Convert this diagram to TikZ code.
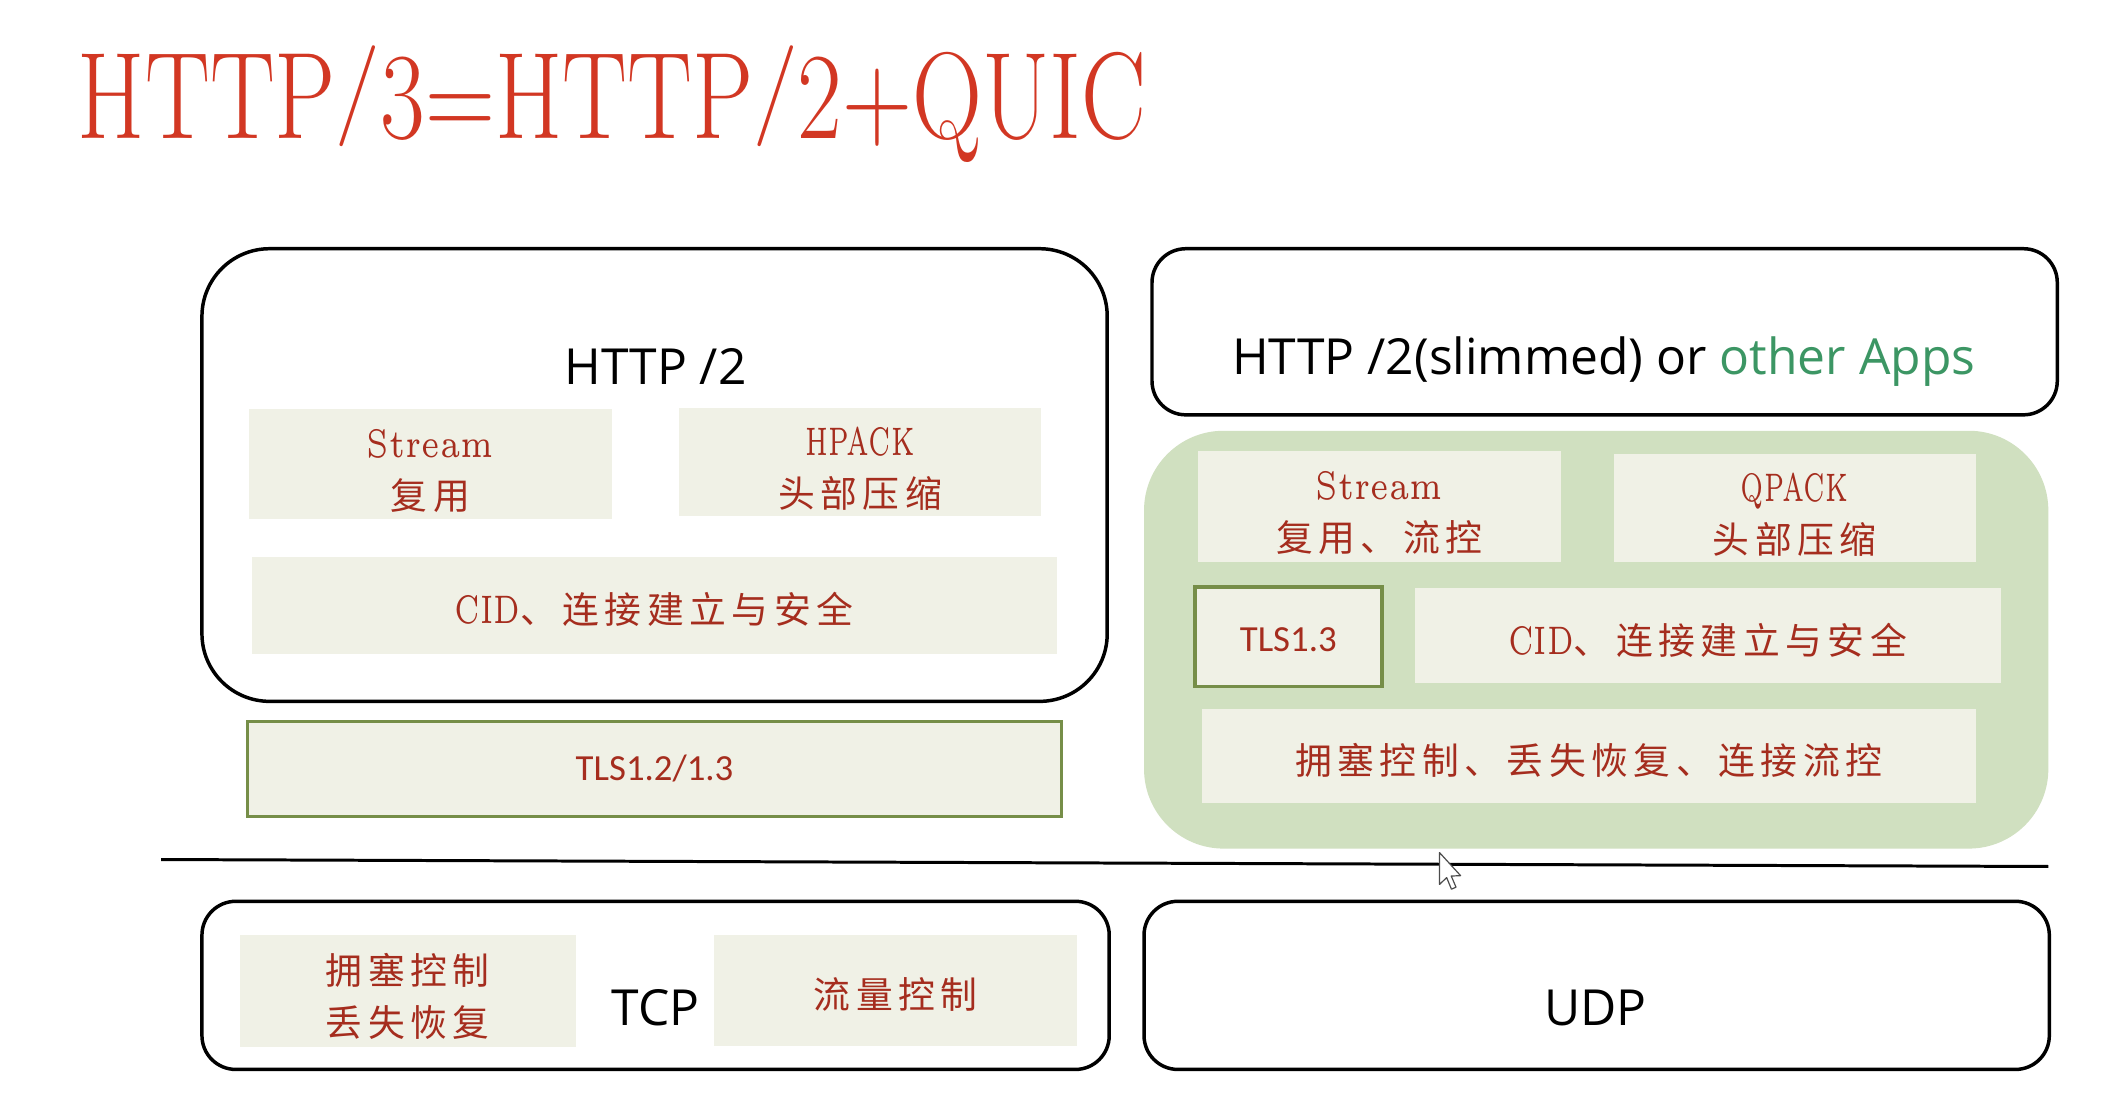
\documentclass[tikz,border=0pt]{standalone}
\usepackage{fontspec}
\newfontfamily\zhfont[LetterSpace=15]{Noto Sans CJK SC}
\newfontfamily\comicfont{Open Sans}
\newfontfamily\calfont{Carlito}
\newfontfamily\lmfive{lmroman5-regular.otf}
\newcommand{\zh}[1]{{\zhfont\fontsize{37}{52}\selectfont #1}}
\newcommand{\lat}[2]{\resizebox{#1}{\height}{\lmfive\fontsize{40}{52}\selectfont #2}}
\newcommand{\upa}{\rule{0pt}{42pt}}
\newcommand{\upb}{\rule{0pt}{40pt}}
\newcommand{\tslash}{\raisebox{17pt}{\scalebox{1}[0.82]{/}}}
\definecolor{titlered}{RGB}{210,55,35}
\definecolor{txtred}{RGB}{165,45,30}
\definecolor{beige}{RGB}{240,241,230}
\definecolor{quicgreen}{RGB}{208,224,192}
\definecolor{olive}{RGB}{118,142,72}
\definecolor{appgreen}{RGB}{60,150,100}
\begin{document}
\begin{tikzpicture}[x=1pt,y=-1pt,
  bigframe/.style={draw=black, line width=3.5pt, rounded corners=68pt, inner sep=0pt},
  smallframe/.style={draw=black, line width=3.5pt, rounded corners=34pt, inner sep=0pt},
  cell/.style={fill=beige, inner sep=0pt, text=txtred, align=center, font=\fontsize{40}{52}\selectfont},
  tlsbox/.style={fill=beige, draw=olive, line width=3.5pt, inner sep=0pt, text=txtred, font=\calfont\fontsize{37}{40}\selectfont},
  label/.style={anchor=base, inner sep=0pt, font=\comicfont\fontsize{50}{50}\selectfont}]
\useasboundingbox (0,0) rectangle (2121,1114);
\fill[white] (0,0) rectangle (2121,1114);

% title
\node[anchor=base west, inner sep=0pt, text=titlered] (title) at (78,139)
  {\resizebox{1074pt}{\height}{\fontsize{124}{124}\selectfont HTTP\tslash3=HTTP\tslash2+QUIC}};

% left: HTTP/2
\node[bigframe, minimum width=910pt, minimum height=455pt] (h2) at (658,477.5) {};
\node[label] (h2lab) at (659,387) {HTTP /2};
\node[cell, minimum width=365pt, minimum height=111pt] (s1) at (432.5,466.5) {\upa\lat{128pt}{Stream}\\\zh{复用}};
\node[cell, minimum width=363pt, minimum height=109pt] (hp) at (864.5,464.5) {\upa\lat{110pt}{HPACK}\\\zh{头部压缩}};
\node[cell, minimum width=809pt, minimum height=97pt] (c1) at (657.5,608.5) {\upb\lat{66pt}{CID}\zh{、连接建立与安全}};
\node[tlsbox, minimum width=818pt, minimum height=96pt] (t1) at (658,773) {TLS1.2/1.3};

% right: HTTP/2 slimmed + QUIC
\node[smallframe, minimum width=910pt, minimum height=167pt] (r2) at (1613,333.5) {};
\node[label] (r2lab) at (1612,376) {HTTP /2(slimmed) or \textcolor{appgreen}{other Apps}};
\node[fill=quicgreen, rounded corners=80pt, inner sep=0pt, minimum width=909pt, minimum height=420pt] (quic) at (1604.5,643) {};
\node[cell, minimum width=365pt, minimum height=112pt] (s2) at (1386.5,509) {\upa\lat{128pt}{Stream}\\\zh{复用、流控}};
\node[cell, minimum width=364pt, minimum height=109pt] (qp) at (1804,510.5) {\upa\lat{108pt}{QPACK}\\\zh{头部压缩}};
\node[tlsbox, minimum width=188pt, minimum height=100pt] (t2) at (1295,640) {\rule{0pt}{30pt}TLS1.3};
\node[cell, minimum width=589pt, minimum height=96pt] (c2) at (1716.5,639) {\upb\lat{66pt}{CID}\zh{、连接建立与安全}};
\node[cell, minimum width=778pt, minimum height=94pt] (k2) at (1597,760) {\upb\zh{拥塞控制、丢失恢复、连接流控}};

% divider line
\coordinate (la) at (162,864);
\coordinate (lb) at (2059,871);
\draw[line width=3pt] (la) -- (lb);

% mouse cursor
\draw[fill=white, draw=black!70, line width=1.2pt, line join=round, shift={(1447,857)}, scale=2]
  (0,0) -- (0,16) -- (3.6,12.6) -- (6,18.4) -- (8.3,17.4) -- (5.9,11.8) -- (10.6,11.6) -- cycle;

% bottom: TCP and UDP
\node[smallframe, minimum width=912pt, minimum height=169pt] (tcp) at (659,990.5) {};
\node[cell, minimum width=338pt, minimum height=112pt] (k1) at (410,996) {\upa\zh{拥塞控制}\\\zh{丢失恢复}};
\node[label] (tcplab) at (659,1031) {TCP};
\node[cell, minimum width=365pt, minimum height=111pt] (f1) at (900.5,995.5) {\upb\zh{流量控制}};
\node[smallframe, minimum width=910pt, minimum height=169pt] (udp) at (1605,990.5) {};
\node[label] (udplab) at (1604,1031) {UDP};
\end{tikzpicture}
\end{document}
